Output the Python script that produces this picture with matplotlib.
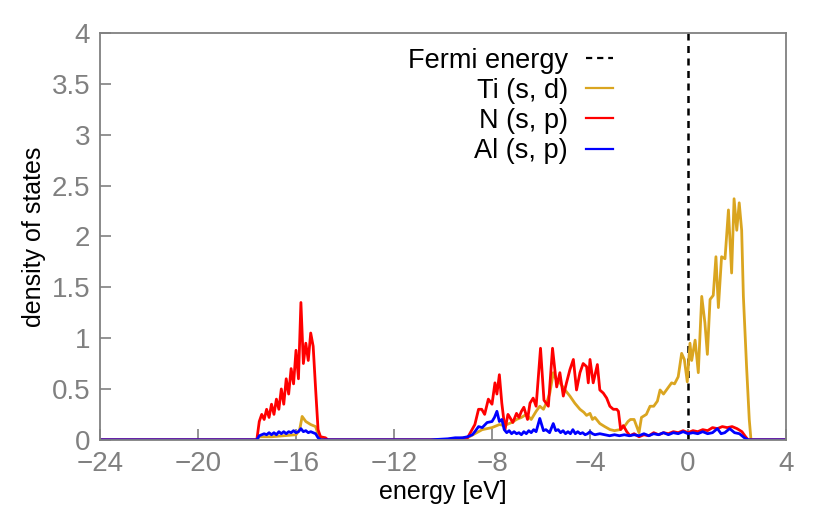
import numpy as np
import matplotlib
matplotlib.use("Agg")
import matplotlib.pyplot as plt

# density of states (energy in eV)
ti_e = [-24, -17.6, -17.5, -17.0, -16.5, -16.0, -15.85, -15.75, -15.6, -15.4, -15.2, -15.1, -15.0, -14.9,
        -10.0, -9.0, -8.7, -8.4, -8.0, -7.7, -7.5, -7.2, -7.0, -6.8, -6.6, -6.4, -6.2, -6.05, -5.9, -5.75,
        -5.64, -5.5, -5.4, -5.23, -5.02, -4.82, -4.62, -4.41, -4.25, -4.14, -4.0, -3.9, -3.8, -3.6, -3.4,
        -3.18, -3.0, -2.78, -2.6, -2.45, -2.35, -2.2, -2.0, -1.9, -1.7, -1.55, -1.4, -1.25, -1.14, -1.0,
        -0.85, -0.67, -0.55, -0.4, -0.26, -0.15, -0.03, 0.08, 0.15, 0.29, 0.42, 0.56, 0.69, 0.79, 0.9,
        1.03, 1.14, 1.24, 1.37, 1.51, 1.65, 1.78, 1.88, 1.99, 2.09, 2.19, 2.26, 2.39, 2.5, 2.57, 4]
ti_dos = [0, 0, 0.03, 0.03, 0.04, 0.05, 0.1, 0.23, 0.18, 0.15, 0.13, 0.05, 0.01, 0,
          0, 0.02, 0.06, 0.1, 0.12, 0.15, 0.14, 0.17, 0.2, 0.22, 0.25, 0.2, 0.28, 0.33, 0.3, 0.38,
          0.46, 0.66, 0.6, 0.56, 0.49, 0.43, 0.36, 0.3, 0.27, 0.24, 0.26, 0.2, 0.22, 0.16, 0.13,
          0.1, 0.09, 0.1, 0.13, 0.18, 0.2, 0.2, 0.07, 0.22, 0.25, 0.33, 0.33, 0.38, 0.49, 0.45,
          0.5, 0.56, 0.55, 0.62, 0.85, 0.79, 0.57, 0.95, 0.78, 0.98, 0.66, 1.41, 1.15, 0.84, 1.38,
          1.42, 1.8, 1.3, 1.8, 1.78, 2.26, 1.64, 2.37, 2.06, 2.33, 2.06, 1.41, 0.72, 0.2, 0, 0]

n_e = [-24, -17.6, -17.5, -17.4, -17.3, -17.2, -17.1, -17.0, -16.9, -16.8, -16.7, -16.6, -16.5, -16.4,
       -16.3, -16.2, -16.1, -16.0, -15.9, -15.8, -15.7, -15.6, -15.5, -15.4, -15.3, -15.2, -15.1, -15.0,
       -14.8, -14.7,
       -10.0, -9.0, -8.7, -8.55, -8.42, -8.3, -8.15, -8.0, -7.88, -7.8, -7.7, -7.6, -7.47, -7.35, -7.27,
       -7.15, -7.0, -6.9, -6.8, -6.7, -6.55, -6.45, -6.32, -6.2, -6.02, -5.88, -5.7, -5.53, -5.36, -5.23,
       -5.09, -4.96, -4.82, -4.68, -4.55, -4.41, -4.28, -4.14, -4.07, -4.0, -3.87, -3.7, -3.6, -3.46,
       -3.32, -3.19, -3.05, -2.91, -2.84, -2.75, -2.64, -2.5, -2.37, -2.2, -2.0, -1.8, -1.6, -1.4, -1.2,
       -1.0, -0.8, -0.6, -0.4, -0.2, 0.0, 0.2, 0.4, 0.6, 0.8, 1.0, 1.2, 1.4, 1.6, 1.8, 2.0, 2.2, 2.35,
       2.45, 4]
n_dos = [0, 0, 0.18, 0.25, 0.2, 0.3, 0.22, 0.35, 0.25, 0.4, 0.3, 0.5, 0.35, 0.6,
         0.45, 0.7, 0.55, 0.88, 0.6, 1.35, 0.75, 0.95, 0.78, 1.05, 0.92, 0.5, 0.1, 0.03,
         0.02, 0,
         0, 0.02, 0.15, 0.3, 0.3, 0.25, 0.4, 0.35, 0.56, 0.45, 0.64, 0.36, 0.1, 0.25, 0.22,
         0.17, 0.26, 0.22, 0.28, 0.32, 0.2, 0.36, 0.41, 0.33, 0.9, 0.39, 0.33, 0.9, 0.52, 0.66,
         0.43, 0.56, 0.69, 0.79, 0.49, 0.66, 0.75, 0.72, 0.56, 0.79, 0.56, 0.74, 0.49, 0.46,
         0.41, 0.33, 0.3, 0.3, 0.28, 0.1, 0.14, 0.08, 0.04, 0.06, 0.03, 0.05, 0.04, 0.07, 0.05,
         0.07, 0.06, 0.08, 0.07, 0.09, 0.07, 0.09, 0.08, 0.1, 0.09, 0.12, 0.11, 0.13, 0.12, 0.13, 0.11, 0.08, 0.03,
         0, 0]

al_e = [-24, -17.6, -17.5, -17.3, -17.2, -17.1, -17.0, -16.9, -16.8, -16.7, -16.6, -16.5, -16.4, -16.3,
        -16.2, -16.1, -16.0, -15.9, -15.8, -15.7, -15.6, -15.5, -15.4, -15.3, -15.2, -15.1, -15.0,
        -10.5, -9.8, -9.5, -9.2, -9.0, -8.8, -8.7, -8.55, -8.4, -8.2, -8.0, -7.9, -7.8, -7.7, -7.6, -7.5,
        -7.4, -7.3, -7.2, -7.1, -7.0, -6.9, -6.8, -6.7, -6.6, -6.5, -6.4, -6.3, -6.2, -6.05, -5.9, -5.8,
        -5.65, -5.5, -5.4, -5.3, -5.2, -5.1, -5.0, -4.9, -4.8, -4.7, -4.6, -4.5, -4.4, -4.3, -4.2, -4.1,
        -4.0, -3.9, -3.8, -3.6, -3.4, -3.2, -3.0, -2.8, -2.6, -2.4, -2.2, -2.0, -1.8, -1.6, -1.4, -1.2,
        -1.0, -0.8, -0.6, -0.4, -0.2, 0.0, 0.2, 0.4, 0.6, 0.8, 1.0, 1.2, 1.35, 1.5, 1.7, 1.9, 2.1, 2.3,
        2.45, 4]
al_dos = [0, 0, 0.04, 0.06, 0.05, 0.07, 0.05, 0.07, 0.05, 0.08, 0.06, 0.08, 0.06, 0.08,
          0.07, 0.09, 0.07, 0.08, 0.11, 0.08, 0.09, 0.07, 0.08, 0.07, 0.06, 0.02, 0,
          0, 0.01, 0.02, 0.02, 0.03, 0.05, 0.08, 0.13, 0.12, 0.17, 0.18, 0.22, 0.28, 0.18, 0.2, 0.1,
          0.07, 0.09, 0.06, 0.08, 0.06, 0.07, 0.05, 0.08, 0.06, 0.09, 0.07, 0.1, 0.08, 0.21, 0.09, 0.1,
          0.07, 0.16, 0.09, 0.1, 0.07, 0.09, 0.06, 0.08, 0.06, 0.1, 0.06, 0.08, 0.06, 0.07, 0.05, 0.06,
          0.08, 0.06, 0.05, 0.06, 0.05, 0.04, 0.05, 0.04, 0.05, 0.04, 0.05, 0.04, 0.06, 0.04, 0.06, 0.05,
          0.07, 0.05, 0.07, 0.06, 0.08, 0.06, 0.07, 0.06, 0.08, 0.06, 0.07, 0.11, 0.06, 0.07, 0.11, 0.07, 0.06, 0.02,
          0, 0]

fermi = 0.0
xticks = [-24, -20, -16, -12, -8, -4, 0, 4]
yticks = [0, 0.5, 1, 1.5, 2, 2.5, 3, 3.5, 4]
ytick_labels = ["0", "0.5", "1", "1.5", "2", "2.5", "3", "3.5", "4"]

plt.rcParams['font.family'] = ['Liberation Sans', 'DejaVu Sans']
grey = "#808080"

fig = plt.figure(figsize=(8.3, 5.15), dpi=100)
ax = fig.add_axes([0.1205, 0.146, 0.8265, 0.79])

ax.axvline(fermi, color="black", lw=1.8, ls=(0, (2.8, 2.2)), label="Fermi energy")
ax.plot(ti_e, ti_dos, color="#DAA520", lw=2.0, label="Ti (s, d)")
ax.plot(n_e, n_dos, color="#FF0000", lw=2.0, label="N (s, p)")
ax.plot(al_e, al_dos, color="#0000FF", lw=2.0, label="Al (s, p)")

ax.set_xlim(-24, 4)
ax.set_ylim(0, 4)
ax.set_xticks(xticks)
ax.set_yticks(yticks)
ax.set_yticklabels(ytick_labels)
ax.tick_params(direction="in", length=8, width=1.2, color=grey, labelcolor=grey,
               labelsize=20, pad=7, top=False, right=False)
ax.tick_params(axis="x", pad=8)
for s in ax.spines.values():
    s.set_color(grey)
    s.set_linewidth(1.3)

ax.set_xlabel("energy [eV]", fontsize=18, labelpad=2)
ax.set_ylabel("density of states", fontsize=18, labelpad=4)

leg = ax.legend(loc="upper right", bbox_to_anchor=(0.775, 1.01), frameon=False, markerfirst=False,
                fontsize=19.5, handlelength=1.0, handletextpad=0.65, labelspacing=0.15, borderpad=0.2)
for line in leg.get_lines():
    line.set_linewidth(1.6)

fig.savefig("out.png", dpi=100)
